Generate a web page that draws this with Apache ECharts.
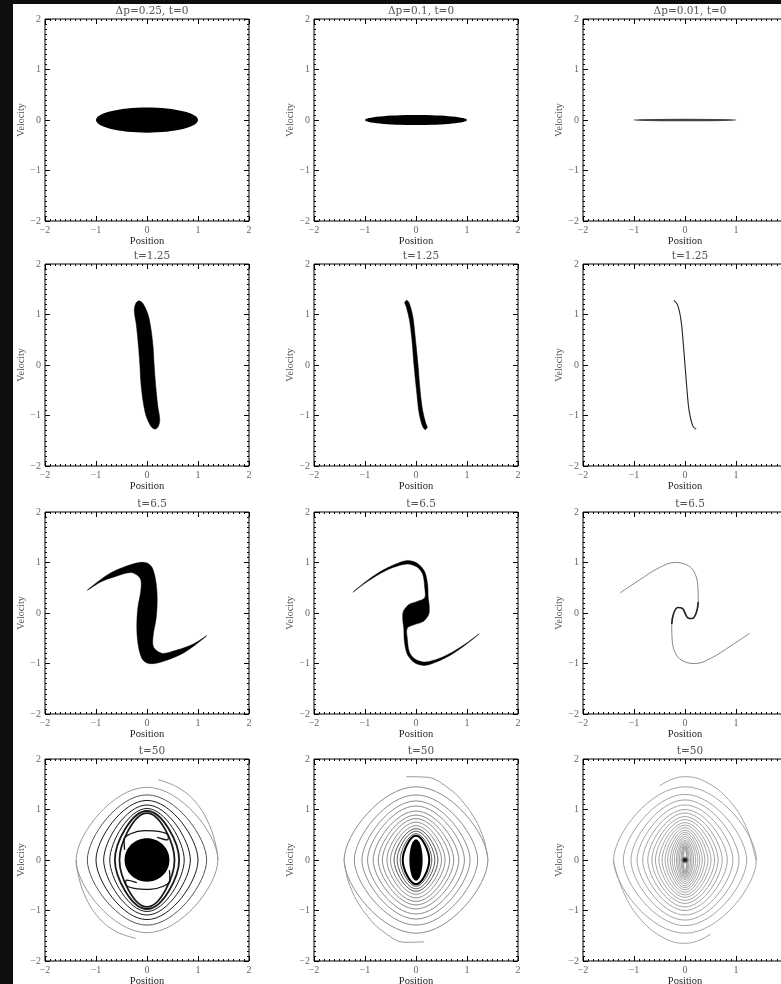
<!DOCTYPE html>
<html><head><meta charset="utf-8">
<script src="https://cdn.jsdelivr.net/npm/echarts@6/dist/echarts.min.js"></script>
<style>html,body{margin:0;padding:0;background:#fff}#c{width:781px;height:984px}</style>
</head><body><div id="c"></div>
<script>
// ---------- text ----------
const titles = ['\u0394p=0.25, t=0', '\u0394p=0.1, t=0', '\u0394p=0.01, t=0',
                't=1.25', 't=1.25', 't=1.25',
                't=6.5', 't=6.5', 't=6.5',
                't=50', 't=50', 't=50'];
const xName = 'Position';
const yName = 'Velocity';
const axisMin = -2, axisMax = 2, tickStep = 1;

// ---------- data (phase-space coordinates: [position, velocity]) ----------
// t=0 ellipses: [cx, cy, half-width, half-height]
const ellipseP0 = [[0, 0, 1.0, 0.25]];
const ellipseP1 = [[0, 0, 1.0, 0.10]];
const ellipseP2 = [[0, 0, 1.0, 0.012]];

// t=1.25 outlines / curve
const bandP3 = [[-0.16,1.27],[-0.08,1.22],[0.02,1.0],[0.08,0.7],[0.12,0.35],[0.14,0.0],[0.17,-0.4],[0.21,-0.8],[0.25,-1.08],[0.22,-1.22],
                [0.16,-1.27],[0.08,-1.22],[-0.02,-1.0],[-0.08,-0.7],[-0.12,-0.35],[-0.14,0.0],[-0.17,0.4],[-0.21,0.8],[-0.25,1.08],[-0.22,1.22]];
const bandP4 = [[-0.18,1.28],[-0.13,1.22],[-0.06,0.95],[-0.01,0.5],[0.04,0.0],[0.08,-0.5],[0.13,-0.9],[0.19,-1.15],[0.22,-1.24],
                [0.18,-1.28],[0.13,-1.22],[0.06,-0.95],[0.01,-0.5],[-0.04,0.0],[-0.08,0.5],[-0.13,0.9],[-0.19,1.15],[-0.22,1.24]];
const curveP5 = [[-0.22,1.28],[-0.15,1.2],[-0.08,0.9],[-0.04,0.5],[0.0,0.0],[0.04,-0.5],[0.08,-0.9],[0.15,-1.2],[0.22,-1.27]];

// t=6.5 outlines / curves
const sShapeP6 = [[-1.17,0.45],[-0.95,0.63],[-0.7,0.8],[-0.4,0.93],[-0.15,1.0],[0.0,0.99],[0.1,0.9],[0.17,0.65],[0.2,0.3],[0.18,-0.1],[0.12,-0.45],[0.13,-0.68],
                  [0.3,-0.8],[0.6,-0.73],[0.9,-0.62],[1.17,-0.45],[0.95,-0.63],[0.7,-0.8],[0.4,-0.93],[0.15,-1.0],[0.0,-0.99],[-0.1,-0.9],[-0.17,-0.65],[-0.2,-0.3],
                  [-0.18,0.1],[-0.12,0.45],[-0.13,0.68],[-0.3,0.8],[-0.6,0.73],[-0.9,0.62]];
const sShapeP7 = [[-1.24,0.41],[-1.0,0.61],[-0.7,0.82],[-0.4,0.97],[-0.17,1.04],[0.02,0.99],[0.17,0.82],[0.23,0.55],[0.24,0.3],
                  [0.26,0.15],[0.25,-0.03],[0.14,-0.17],[0.0,-0.22],
                  [-0.17,-0.3],[-0.17,-0.5],[-0.13,-0.77],[-0.02,-0.91],[0.17,-0.97],[0.45,-0.9],[0.7,-0.78],[1.0,-0.59],
                  [1.24,-0.41],[1.0,-0.61],[0.7,-0.82],[0.4,-0.97],[0.17,-1.04],[-0.02,-0.99],[-0.17,-0.82],[-0.23,-0.55],[-0.24,-0.3],
                  [-0.26,-0.15],[-0.25,0.03],[-0.14,0.17],[0.0,0.22],
                  [0.17,0.3],[0.17,0.5],[0.13,0.77],[0.02,0.91],[-0.17,0.97],[-0.45,0.9],[-0.7,0.78],[-1.0,0.59]];
const curveP8 = [[-1.27,0.40],[-0.9,0.65],[-0.5,0.9],[-0.2,1.0],[0.02,0.96],[0.17,0.83],[0.25,0.55],[0.26,0.22],[0.22,0.0],[0.14,-0.11],[0.05,-0.09],
                 [0.0,0.0],[-0.05,0.09],[-0.14,0.11],[-0.22,0.0],[-0.26,-0.22],[-0.25,-0.55],[-0.17,-0.83],[-0.02,-0.96],[0.2,-1.0],[0.5,-0.9],[0.9,-0.65],[1.27,-0.40]];
const curveP8Core = [[0.26,0.22],[0.22,0.0],[0.14,-0.11],[0.05,-0.09],[0.0,0.0],[-0.05,0.09],[-0.14,0.11],[-0.22,0.0],[-0.26,-0.22]];

// t=50 : windings given as [half-width, half-height], outer arm starts, central cores
const ringsP9  = [[1.39,1.44],[1.17,1.29],[1.0,1.18],[0.85,1.09],[0.73,1.02],[0.63,0.97],[0.54,0.93]];
const armP9a   = [[0.22,1.59],[0.6,1.44],[0.95,1.15],[1.22,0.7],[1.37,0.2],[1.39,0.0]];
const armP9b   = [[-0.22,-1.55],[-0.6,-1.42],[-0.95,-1.14],[-1.22,-0.7],[-1.37,-0.2],[-1.39,0.0]];
const blobP9   = [[0, 0, 0.44, 0.43]];
const swirlP9a = [[-0.44,0.2],[-0.45,0.4],[-0.32,0.52],[-0.05,0.58],[0.25,0.56],[0.42,0.47],[0.4,0.4],[0.2,0.45]];
const swirlP9b = [[0.44,-0.2],[0.45,-0.4],[0.32,-0.52],[0.05,-0.58],[-0.25,-0.56],[-0.42,-0.47],[-0.4,-0.4],[-0.2,-0.45]];

const ringsP10 = [[1.41,1.45],[1.21,1.29],[1.06,1.17],[0.95,1.07],[0.84,0.97],[0.74,0.89],[0.66,0.82],[0.57,0.75],[0.5,0.68],[0.43,0.62],[0.37,0.57],[0.31,0.52],[0.26,0.48]];
const armP10a  = [[-0.19,1.65],[0.2,1.64],[0.6,1.45],[1.0,1.05],[1.3,0.5],[1.41,0.0]];
const armP10b  = [[0.16,-1.62],[-0.2,-1.63],[-0.6,-1.45],[-1.0,-1.05],[-1.3,-0.5],[-1.41,0.0]];
const blobP10  = [[0, 0, 0.13, 0.41]];

const ringsP11 = [[1.4,1.45],[1.21,1.30],[1.06,1.19],[0.94,1.09],[0.83,1.00],[0.73,0.93],[0.65,0.86],[0.58,0.80],[0.51,0.74],[0.45,0.69],[0.39,0.64],
                  [0.34,0.59],[0.29,0.55],[0.25,0.51],[0.21,0.47],[0.17,0.43],[0.14,0.39],[0.11,0.36],[0.08,0.33],[0.06,0.30],[0.045,0.27],[0.03,0.25]];
const armP11a  = [[-0.5,1.47],[-0.25,1.6],[0.0,1.65],[0.4,1.55],[0.85,1.2],[1.2,0.65],[1.39,0.0]];
const armP11b  = [[0.5,-1.47],[0.25,-1.6],[0.0,-1.65],[-0.4,-1.55],[-0.85,-1.2],[-1.2,-0.65],[-1.41,0.0]];
const blobP11  = [[0, 0, 0.08, 0.24]];

// ---------- layout ----------
const colLeft = [45, 314, 583];
const rowTop = [19, 264, 512, 759];
const plotW = 204, plotH = 202;
const FONT = 'Liberation Serif';
const TFONT = 'DejaVu Serif';

const fmt = v => (v < 0 ? '\u2212' + Math.abs(v) : String(v));
const grids = [], xAxes = [], yAxes = [], titleOpts = [], series = [];

for (let r = 0; r < 4; r++) {
  for (let c = 0; c < 3; c++) {
    const gi = r * 3 + c;
    grids.push({left: colLeft[c], top: rowTop[r], width: plotW, height: plotH, show: true,
                borderColor: '#000', borderWidth: 1, backgroundColor: 'transparent',
                containLabel: false, outerBoundsMode: 'none'});
    const common = {
      type: 'value', gridIndex: gi, min: axisMin, max: axisMax, interval: tickStep,
      axisLine: {show: false, onZero: false},
      axisTick: {show: true, inside: true, length: 5, lineStyle: {color: '#000', width: 1}},
      minorTick: {show: true, splitNumber: 10, length: 2, lineStyle: {color: '#000', width: 1}},
      splitLine: {show: false}, minorSplitLine: {show: false}
    };
    const lbl = {show: true, margin: 4, formatter: fmt, fontSize: 10, color: '#666', fontFamily: FONT};
    xAxes.push(Object.assign({}, common, {position: 'bottom', axisLabel: lbl,
      name: xName, nameLocation: 'middle', nameGap: 13,
      nameTextStyle: {fontSize: 10.5, color: '#222', fontFamily: FONT}}));
    xAxes.push(Object.assign({}, common, {position: 'top', axisLabel: {show: false}}));
    yAxes.push(Object.assign({}, common, {position: 'left', axisLabel: lbl,
      name: yName, nameLocation: 'middle', nameGap: 19, nameRotate: 90,
      nameTextStyle: {fontSize: 10, color: '#555', fontFamily: FONT}}));
    yAxes.push(Object.assign({}, common, {position: 'right', axisLabel: {show: false}}));
    titleOpts.push({text: titles[gi], left: colLeft[c] + plotW / 2, top: rowTop[r] - 18, textAlign: 'center',
      textStyle: {fontSize: 10.5, fontWeight: 'normal', color: '#555', fontFamily: TFONT}});
  }
}

// ---------- series helpers ----------
const ax = gi => ({xAxisIndex: 2 * gi, yAxisIndex: 2 * gi});
const KE = 0.5523;
function loopPath(api, cx, cy, a, b, k1, k2) {
  const c = (x, y) => { const p = api.coord([cx + x, cy + y]); return p[0].toFixed(2) + ' ' + p[1].toFixed(2); };
  return 'M' + c(a, 0) +
    ' C' + c(a, k1 * b) + ' ' + c(k2 * a, b) + ' ' + c(0, b) +
    ' C' + c(-k2 * a, b) + ' ' + c(-a, k1 * b) + ' ' + c(-a, 0) +
    ' C' + c(-a, -k1 * b) + ' ' + c(-k2 * a, -b) + ' ' + c(0, -b) +
    ' C' + c(k2 * a, -b) + ' ' + c(a, -k1 * b) + ' ' + c(a, 0) + ' Z';
}
function ellipseSeries(gi, data, style, z) {
  return Object.assign({type: 'custom', data: data, z: z || 3, silent: true, animation: false,
    renderItem: (p, api) => ({type: 'path',
      shape: {pathData: loopPath(api, api.value(0), api.value(1), api.value(2), api.value(3), KE, KE)},
      style: Object.assign({}, style)})}, ax(gi));
}
function ringSeries(gi, data, styleFn, k1, k2) {
  return Object.assign({type: 'custom', data: data, z: 2, silent: true, animation: false,
    renderItem: (p, api) => ({type: 'path',
      shape: {pathData: loopPath(api, 0, 0, api.value(0), api.value(1), k1, k2)},
      style: Object.assign({fill: 'none'}, styleFn(p.dataIndex, data.length))})}, ax(gi));
}
function polySeries(gi, pts, smooth, style) {
  return Object.assign({type: 'custom', data: pts, z: 3, silent: true, animation: false,
    renderItem: (p, api) => p.dataIndex !== 0 ? null : ({type: 'polygon',
      shape: {points: pts.map(q => api.coord(q)), smooth: smooth},
      style: Object.assign({}, style)})}, ax(gi));
}
function lineSeries(gi, pts, color, width, smooth, z) {
  return Object.assign({type: 'line', data: pts, smooth: smooth, symbol: 'none', showSymbol: false,
    silent: true, animation: false, z: z || 3, lineStyle: {color: color, width: width}}, ax(gi));
}

// row 1
series.push(ellipseSeries(0, ellipseP0, {fill: '#000'}));
series.push(ellipseSeries(1, ellipseP1, {fill: '#000'}));
series.push(ellipseSeries(2, ellipseP2, {fill: '#333', stroke: '#444', lineWidth: 1.4}));
// row 2
series.push(polySeries(3, bandP3, 0.3, {fill: '#000', stroke: '#000', lineWidth: 0.5}));
series.push(polySeries(4, bandP4, 0.3, {fill: '#000', stroke: '#000', lineWidth: 0.5}));
series.push(lineSeries(5, curveP5, '#222', 1.1, 0.4));
// row 3
series.push(polySeries(6, sShapeP6, 0.3, {fill: '#000', stroke: '#000', lineWidth: 0.5}));
series.push(polySeries(7, sShapeP7, 0.3, {fill: '#000', stroke: '#000', lineWidth: 0.4}));
series.push(lineSeries(8, curveP8, '#888', 1, 0.4));
series.push(lineSeries(8, curveP8Core, '#222', 1.6, 0.4, 4));
// row 4
const RK1 = 0.35, RK2 = 0.48;
series.push(ringSeries(9, ringsP9, (i, n) => ({stroke: i < 1 ? '#999' : (i < 2 ? '#555' : '#1a1a1a'), lineWidth: i >= n - 2 ? 1.8 : 1}), RK1, RK2));
series.push(lineSeries(9, armP9a, '#999', 1, 0.4));
series.push(lineSeries(9, armP9b, '#999', 1, 0.4));
series.push(ellipseSeries(9, blobP9, {fill: '#000'}, 4));
series.push(lineSeries(9, swirlP9a, '#111', 1.3, 0.4, 5));
series.push(lineSeries(9, swirlP9b, '#111', 1.3, 0.4, 5));

series.push(ringSeries(10, ringsP10, (i, n) => ({stroke: i === n - 1 ? '#000' : (i >= n - 4 ? '#555' : '#8c8c8c'), lineWidth: i === n - 1 ? 2 : 1}), RK1, RK2));
series.push(lineSeries(10, armP10a, '#999', 1, 0.4));
series.push(lineSeries(10, armP10b, '#999', 1, 0.4));
series.push(ellipseSeries(10, blobP10, {fill: '#000'}, 4));

series.push(ringSeries(11, ringsP11, (i, n) => ({stroke: '#9a9a9a', lineWidth: 0.9}), RK1, RK2));
series.push(lineSeries(11, armP11a, '#9a9a9a', 0.9, 0.4));
series.push(lineSeries(11, armP11b, '#9a9a9a', 0.9, 0.4));
series.push(ellipseSeries(11, blobP11, {fill: {type: 'radial', x: 0.5, y: 0.5, r: 0.5,
  colorStops: [{offset: 0, color: 'rgba(0,0,0,1)'}, {offset: 0.4, color: 'rgba(20,20,20,0.85)'}, {offset: 1, color: 'rgba(90,90,90,0)'}]}}, 4));

const chart = echarts.init(document.getElementById('c'), null, {renderer: 'canvas'});
chart.setOption({
  animation: false,
  backgroundColor: '#fff',
  graphic: [
    {type: 'rect', left: 0, top: 0, z: -10, shape: {width: 13, height: 984}, style: {fill: '#0e0e0e'}},
    {type: 'rect', left: 0, top: 0, z: -10, shape: {width: 781, height: 4}, style: {fill: '#0e0e0e'}}
  ],
  title: titleOpts,
  grid: grids,
  xAxis: xAxes,
  yAxis: yAxes,
  series: series
});
</script>
</body></html>
